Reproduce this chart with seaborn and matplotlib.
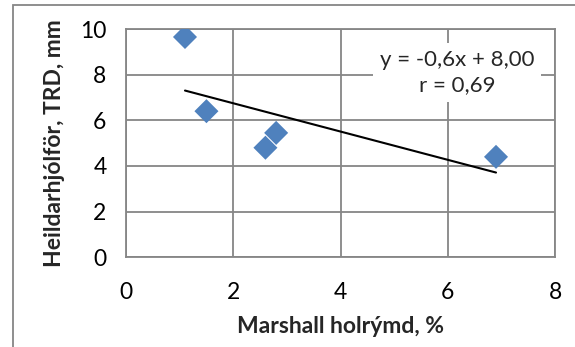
import numpy as np
import pandas as pd
import matplotlib
matplotlib.use("Agg")
import matplotlib.pyplot as plt
import matplotlib.patches as mpatches
import seaborn as sns

# Data
holrymd = [1.1, 1.5, 2.6, 2.8, 6.9]
trd = [9.65, 6.4, 4.8, 5.45, 4.4]
x_ticks = [0, 2, 4, 6, 8]
y_ticks = [0, 2, 4, 6, 8, 10]
eq_text = "y = -0,6x + 8,00\nr = 0,69"
x_label = "Marshall holrýmd, %"
y_label = "Heildarhjólför, TRD, mm"

df = pd.DataFrame({"x": holrymd, "y": trd})

sns.set_theme(style="white")
plt.rcParams["font.family"] = ["Lato", "DejaVu Sans"]

W, H = 575, 347
fig = plt.figure(figsize=(W / 100, H / 100), dpi=100)
ax = fig.add_axes([126 / W, 1 - 257.3 / H, (555 - 126) / W, (257.3 - 29) / H])

grid_c = "#868686"
ax.set_xlim(0, 8)
ax.set_ylim(0, 10)
ax.set_xticks(x_ticks)
ax.set_yticks(y_ticks)
ax.grid(True, color=grid_c, linewidth=1.3)
ax.set_axisbelow(True)
for s in ax.spines.values():
    s.set_color(grid_c)
    s.set_linewidth(1.3)
ax.tick_params(axis="both", direction="out", length=8, width=1.3, color=grid_c,
               labelsize=16.5, labelcolor="black", pad=6)
ax.tick_params(axis="x", pad=10)

sns.regplot(data=df, x="x", y="y", ax=ax, ci=None, truncate=True,
            scatter=False, line_kws=dict(color="black", linewidth=1.5))
sns.scatterplot(data=df, x="x", y="y", ax=ax, marker="D", s=150,
                color="#4F81BD", edgecolor="none", zorder=5)

ax.set_xlabel(x_label, fontsize=16.5, fontweight="bold", labelpad=9)
ax.set_ylabel(y_label, fontsize=16.5, fontweight="bold", labelpad=11)

ax.text(0.772, 0.81, eq_text, transform=ax.transAxes, ha="center", va="center",
        fontsize=16, linespacing=1.35,
        bbox=dict(boxstyle="square,pad=0.3", facecolor="white", edgecolor="none"),
        zorder=6)

# outer chart frame
fig.patches.append(mpatches.Rectangle((13 / W, -0.05), 1.2, 1 - 5 / H + 0.05,
                                      transform=fig.transFigure, fill=False,
                                      edgecolor=grid_c, linewidth=1.3, clip_on=False))

fig.savefig("out.png", dpi=100)
